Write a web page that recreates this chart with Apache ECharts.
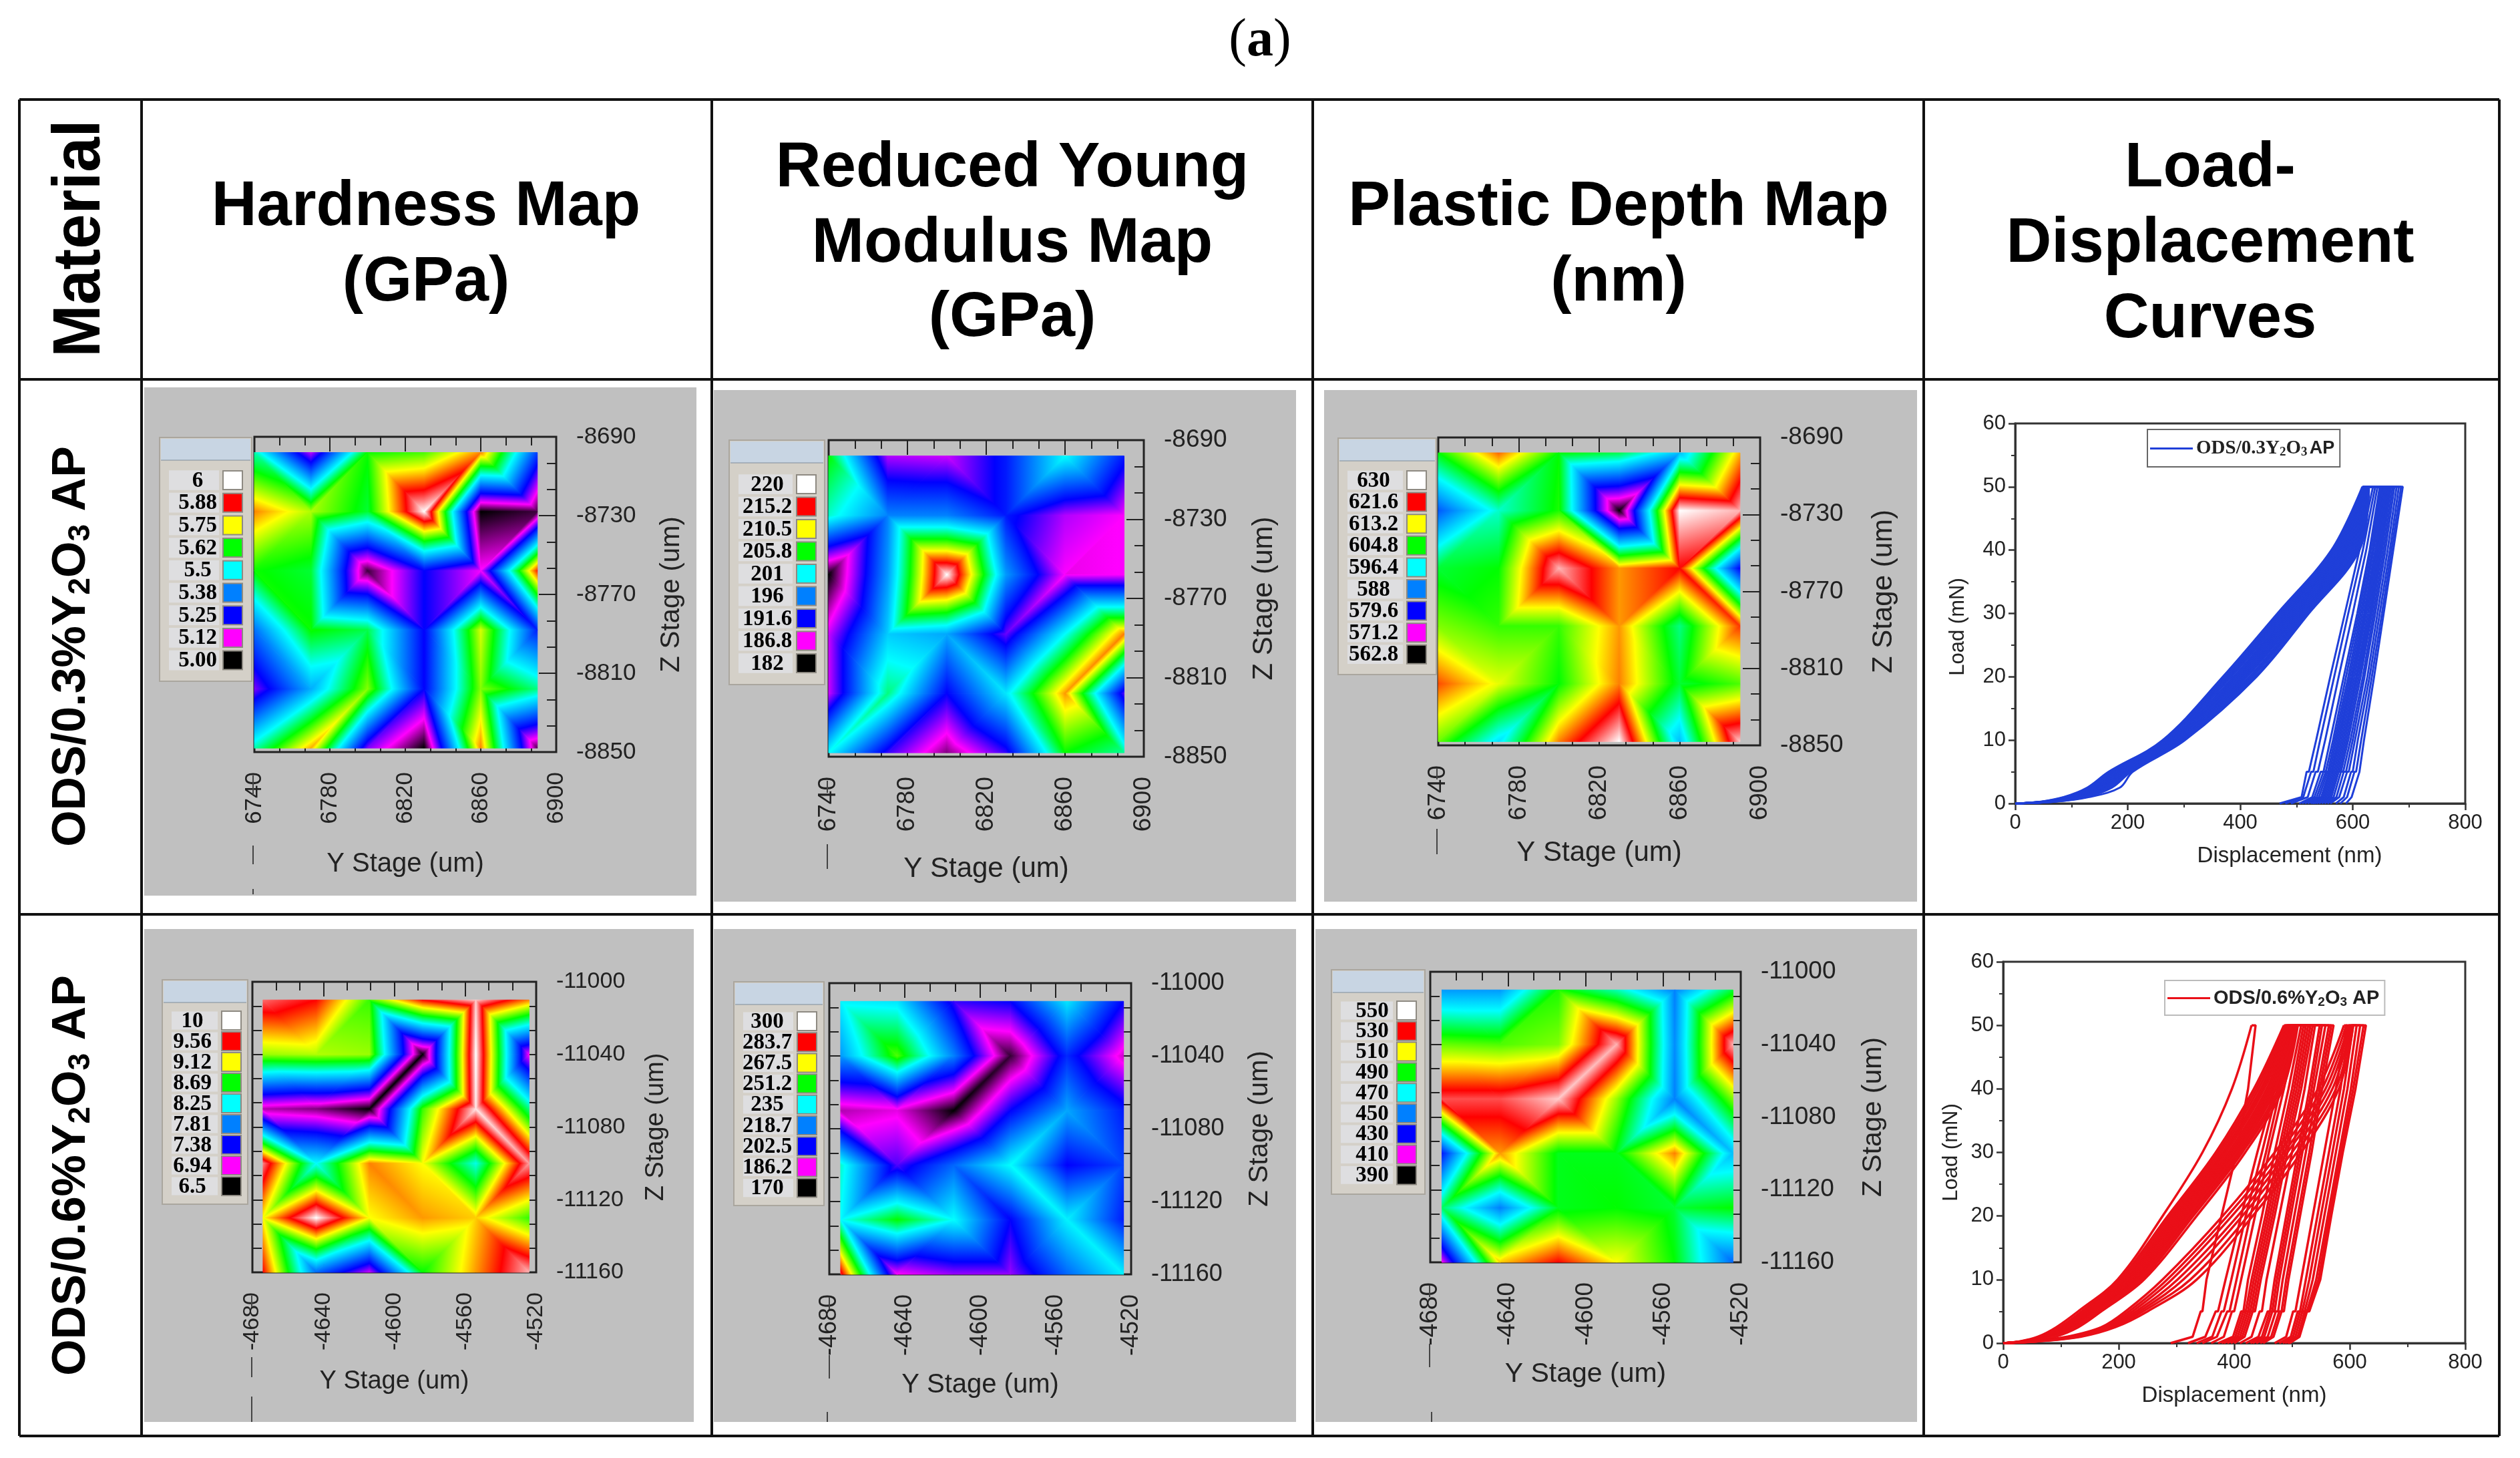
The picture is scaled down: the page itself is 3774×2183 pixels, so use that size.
<!DOCTYPE html>
<html>
<head>
<meta charset="utf-8">
<title>ODS nanoindentation maps</title>
<style>
  html, body { margin: 0; background: #fff; }
  #chart { width: 3774px; height: 2183px; }
</style>
<script src="https://cdn.jsdelivr.net/npm/echarts@6/dist/echarts.min.js"></script>
</head>
<body>
<div id="chart"></div>
<script>
// tick labels of the maps
const yStageTop = [6740, 6780, 6820, 6860, 6900];
const zStageTop = [-8850, -8810, -8770, -8730, -8690];
const yStageBottom = [-4680, -4640, -4600, -4560, -4520];
const zStageBottom = [-11160, -11120, -11080, -11040, -11000];

// indent positions (rows of the value tables run from the top of the map down)
const yNodesTop = [6740, 6770, 6800, 6830, 6860, 6890];
const zNodesTop = [-8698, -8728, -8758, -8788, -8818, -8848];
const yNodesBottom = [-4674, -4644, -4614, -4584, -4554, -4524];
const zNodesBottom = [-11010, -11040, -11070, -11100, -11130, -11160];

// which way each grid cell was split: d = top-left to bottom-right, u = bottom-left to top-right
const splitsTop = ['dudud', 'udddu', 'dudud', 'duddu', 'uuudd'];
const splitsModulusTop = ['dudud', 'ududu', 'dudud', 'duddu', 'uuudd'];
const splitsBottom = ['dudud', 'duudu', 'dudud', 'udddu', 'dudud'];

// legends, high to low
const hardnessLevelsTop = ['6', '5.88', '5.75', '5.62', '5.5', '5.38', '5.25', '5.12', '5.00'];
const modulusLevelsTop = ['220', '215.2', '210.5', '205.8', '201', '196', '191.6', '186.8', '182'];
const depthLevelsTop = ['630', '621.6', '613.2', '604.8', '596.4', '588', '579.6', '571.2', '562.8'];
const hardnessLevelsBottom = ['10', '9.56', '9.12', '8.69', '8.25', '7.81', '7.38', '6.94', '6.5'];
const modulusLevelsBottom = ['300', '283.7', '267.5', '251.2', '235', '218.7', '202.5', '186.2', '170'];
const depthLevelsBottom = ['550', '530', '510', '490', '470', '450', '430', '410', '390'];
const levelColors = ['#ffffff', '#ff0000', '#ffff00', '#00ff00', '#00ffff', '#0080ff', '#0000ff', '#ff00ff', '#000000'];

// map values
const hardnessTop = [
  [5.54, 5.16, 5.63, 5.66, 5.81, 5.31],
  [5.81, 5.71, 5.60, 6.00, 5.00, 5.03],
  [5.63, 5.60, 5.03, 5.25, 5.13, 5.86],
  [5.36, 5.63, 5.59, 5.25, 5.73, 5.28],
  [5.19, 5.42, 5.69, 5.25, 5.69, 5.56],
  [5.54, 5.79, 5.19, 5.00, 5.81, 5.04],
];
const modulusTop = [
  [205.8, 188.2, 187.7, 192.4, 201.0, 192.4],
  [202.0, 196.3, 196.3, 192.4, 188.2, 186.8],
  [182.0, 197.2, 220.0, 197.2, 186.8, 186.8],
  [187.7, 199.1, 197.7, 189.6, 201.0, 212.9],
  [187.7, 203.4, 191.5, 200.1, 212.4, 190.1],
  [201.0, 190.6, 184.4, 190.6, 205.8, 202.9],
];
const depthTop = [
  [604.8, 618.2, 604.8, 602.3, 592.2, 615.7],
  [585.5, 598.1, 605.6, 562.8, 630.0, 627.5],
  [603.1, 604.8, 627.5, 616.6, 621.6, 579.6],
  [609.0, 606.5, 606.5, 616.6, 600.6, 619.9],
  [619.1, 612.4, 604.8, 617.4, 603.1, 607.3],
  [608.2, 594.7, 617.4, 630.0, 592.2, 628.3],
];
const hardnessBottom = [
  [9.74, 9.56, 8.78, 9.56, 9.91, 9.34],
  [8.95, 8.99, 8.95, 6.50, 10.0, 6.94],
  [6.81, 6.72, 6.50, 8.78, 9.96, 8.47],
  [9.78, 8.25, 9.34, 9.12, 8.29, 9.83],
  [9.12, 10.0, 9.12, 9.30, 9.21, 8.78],
  [9.56, 7.73, 7.03, 8.69, 9.30, 9.87],
];
const modulusBottom = [
  [233.4, 231.8, 199.3, 202.5, 231.8, 202.5],
  [222.0, 256.1, 218.8, 173.3, 207.4, 183.0],
  [181.4, 184.6, 170.0, 202.5, 223.6, 205.8],
  [238.3, 197.6, 215.5, 235.0, 202.5, 210.6],
  [235.0, 251.3, 235.0, 202.5, 233.4, 205.8],
  [287.0, 186.3, 192.8, 192.8, 215.5, 233.4],
];
const depthBottom = [
  [454, 454, 492, 476, 450, 486],
  [498, 496, 500, 544, 452, 544],
  [536, 536, 546, 502, 450, 500],
  [434, 518, 488, 488, 520, 460],
  [482, 450, 488, 490, 486, 490],
  [410, 514, 530, 510, 490, 446],
];

// load levels the displacements below were read at
const loadsUp = [0, 0.3, 1, 2.5, 5, 10, 20, 30, 40, 50];
const loadsDown = [50, 40, 30, 20, 10, 5, 5, 1, 0];

const blueLoading = [
  [0, 46, 86, 128, 166, 262, 369, 466, 562, 617],
  [0, 48, 88, 132, 168, 264, 372, 469, 565, 618],
  [0, 50, 92, 136, 171, 266, 375, 472, 567, 618],
  [0, 50, 94, 138, 173, 268, 378, 475, 570, 619],
  [0, 52, 96, 140, 175, 270, 381, 478, 572, 619],
  [0, 54, 98, 142, 177, 272, 384, 481, 575, 620],
  [0, 54, 100, 144, 179, 275, 388, 484, 578, 621],
  [0, 56, 100, 146, 181, 277, 391, 487, 580, 621],
  [0, 56, 102, 148, 184, 279, 394, 489, 583, 622],
  [0, 58, 104, 150, 186, 281, 397, 492, 585, 622],
  [0, 58, 106, 152, 188, 283, 400, 495, 588, 623],
  [0, 60, 108, 154, 190, 285, 403, 498, 590, 624],
  [0, 60, 110, 156, 192, 287, 406, 501, 593, 624],
  [0, 62, 112, 158, 195, 289, 409, 504, 596, 625],
  [0, 64, 114, 160, 197, 292, 412, 507, 598, 626],
  [0, 64, 116, 162, 199, 294, 416, 510, 601, 626],
  [0, 66, 118, 164, 201, 296, 419, 513, 604, 627],
  [0, 68, 122, 168, 204, 298, 422, 516, 606, 628],
  [0, 70, 126, 172, 206, 300, 426, 519, 609, 628],
  [0, 72, 130, 186, 209, 302, 429, 522, 612, 629],
];
const blueUnloading = [
  [636, 612, 586, 560, 535, 522, 518, 509, 470],
  [640, 618, 592, 567, 542, 530, 526, 512, 480],
  [644, 624, 600, 575, 551, 538, 534, 520, 490],
  [648, 630, 608, 584, 560, 548, 543, 528, 505],
  [650, 632, 611, 588, 565, 552, 548, 532, 510],
  [652, 635, 614, 592, 568, 556, 552, 536, 515],
  [654, 637, 617, 595, 571, 559, 555, 540, 520],
  [656, 640, 620, 598, 574, 562, 558, 544, 525],
  [658, 642, 622, 600, 577, 564, 560, 547, 528],
  [660, 644, 624, 603, 580, 567, 563, 550, 530],
  [662, 646, 627, 606, 583, 570, 566, 553, 533],
  [664, 648, 630, 608, 586, 573, 569, 556, 536],
  [666, 650, 632, 611, 589, 576, 572, 559, 540],
  [668, 652, 634, 614, 592, 579, 575, 562, 545],
  [671, 655, 637, 618, 596, 583, 579, 566, 550],
  [674, 658, 640, 621, 600, 588, 584, 571, 555],
  [678, 662, 644, 626, 604, 593, 590, 576, 560],
  [682, 666, 648, 630, 609, 600, 597, 584, 570],
  [686, 669, 652, 634, 615, 606, 603, 590, 578],
  [689, 672, 655, 638, 620, 612, 610, 598, 588],
];
const redLoading = [
  [0, 30, 60, 92, 130, 198, 276, 345, 396, 430],
  [0, 32, 64, 98, 136, 202, 285, 368, 434, 486],
  [0, 34, 66, 100, 140, 206, 289, 372, 438, 488],
  [0, 34, 68, 104, 142, 210, 293, 376, 442, 490],
  [0, 36, 70, 106, 146, 214, 297, 380, 446, 492],
  [0, 36, 72, 108, 148, 216, 300, 383, 449, 494],
  [0, 38, 74, 110, 150, 219, 303, 386, 452, 496],
  [0, 38, 76, 112, 152, 222, 306, 390, 456, 498],
  [0, 40, 78, 114, 154, 225, 309, 393, 459, 500],
  [0, 40, 80, 116, 156, 228, 312, 396, 462, 500],
  [0, 42, 80, 118, 158, 230, 315, 399, 465, 502],
  [0, 42, 82, 120, 160, 232, 318, 402, 468, 504],
  [0, 44, 84, 122, 162, 235, 321, 406, 472, 504],
  [0, 46, 86, 124, 164, 238, 325, 410, 476, 506],
  [0, 48, 88, 126, 166, 240, 329, 414, 480, 508],
  [0, 50, 90, 130, 170, 244, 335, 419, 484, 510],
  [0, 44, 86, 122, 160, 234, 320, 404, 470, 506],
  [0, 46, 88, 126, 164, 238, 326, 412, 478, 508],
  [0, 50, 110, 170, 212, 276, 380, 470, 545, 590],
  [0, 52, 114, 174, 218, 284, 388, 478, 552, 594],
  [0, 54, 118, 178, 224, 292, 396, 486, 558, 598],
  [0, 56, 122, 182, 230, 302, 406, 492, 564, 600],
  [0, 58, 126, 186, 236, 312, 414, 500, 570, 602],
  [0, 60, 130, 190, 242, 324, 424, 508, 576, 604],
  [0, 62, 134, 194, 250, 335, 432, 516, 581, 606],
];
const redUnloading = [
  [437, 424, 404, 378, 352, 345, 342, 328, 290],
  [495, 470, 440, 412, 385, 372, 368, 350, 320],
  [500, 475, 448, 420, 395, 382, 378, 362, 335],
  [505, 480, 455, 428, 404, 392, 388, 370, 345],
  [510, 486, 460, 436, 412, 400, 396, 382, 360],
  [516, 494, 470, 448, 424, 416, 412, 398, 372],
  [520, 500, 476, 454, 430, 420, 416, 402, 378],
  [524, 504, 480, 458, 434, 424, 420, 406, 382],
  [528, 508, 484, 462, 438, 428, 424, 410, 388],
  [532, 512, 488, 466, 442, 432, 428, 414, 394],
  [536, 516, 492, 470, 446, 436, 432, 418, 400],
  [540, 522, 500, 478, 456, 448, 444, 430, 410],
  [548, 530, 510, 490, 470, 462, 458, 442, 420],
  [552, 534, 514, 494, 474, 466, 462, 448, 428],
  [558, 538, 518, 498, 478, 470, 466, 452, 432],
  [564, 544, 524, 504, 484, 476, 472, 458, 438],
  [568, 548, 530, 510, 490, 482, 478, 464, 445],
  [572, 552, 534, 514, 494, 486, 482, 468, 450],
  [595, 576, 556, 536, 516, 506, 502, 490, 470],
  [600, 584, 564, 544, 524, 514, 510, 498, 478],
  [606, 590, 570, 550, 530, 518, 514, 502, 484],
  [612, 596, 576, 556, 536, 522, 518, 506, 488],
  [618, 602, 582, 562, 542, 526, 522, 510, 492],
  [624, 606, 585, 565, 546, 528, 524, 512, 494],
  [628, 610, 588, 568, 549, 530, 526, 513, 496],
];

const blueName = 'ODS/0.3Y2O3 AP';
const redName = 'ODS/0.6%Y2O3 AP';

// where each map panel sits on the page
const panels = [
  {
    values: hardnessTop, levels: hardnessLevelsTop, yNodes: yNodesTop, zNodes: zNodesTop, splits: splitsTop, yTicks: yStageTop, zTicks: zStageTop,
    gray: [216, 580, 827, 761], frame: [381, 654, 452, 472], win: [239, 655, 138, 365], cellX: 296, swatchX: 334, rowY: 719, rowStep: 33.7,
    tickFont: 35, nameFont: 40, xGap: 148, zGap: 153, stubs: [[379, 1161, 1190], [379, 1266, 1294], [379, 1331, 1339]],
  },
  {
    values: modulusTop, levels: modulusLevelsTop, yNodes: yNodesTop, zNodes: zNodesTop, splits: splitsModulusTop, yTicks: yStageTop, zTicks: zStageTop,
    gray: [1069, 584, 872, 766], frame: [1241, 659, 472, 474], win: [1092, 659, 143, 366], cellX: 1149, swatchX: 1193, rowY: 725, rowStep: 33.5,
    tickFont: 37, nameFont: 42, xGap: 147, zGap: 159, stubs: [[1239, 1169, 1187], [1239, 1264, 1301]],
  },
  {
    values: depthTop, levels: depthLevelsTop, yNodes: yNodesTop, zNodes: zNodesTop, splits: splitsTop, yTicks: yStageTop, zTicks: zStageTop,
    gray: [1983, 584, 888, 766], frame: [2154, 655, 482, 461], win: [2004, 656, 147, 354], cellX: 2057, swatchX: 2107, rowY: 719, rowStep: 32.6,
    tickFont: 37, nameFont: 42, xGap: 140, zGap: 164, stubs: [[2152, 1150, 1167], [2152, 1241, 1279]],
  },
  {
    values: hardnessBottom, levels: hardnessLevelsBottom, yNodes: yNodesBottom, zNodes: zNodesBottom, splits: splitsBottom, yTicks: yStageBottom, zTicks: zStageBottom,
    gray: [216, 1391, 823, 738], frame: [378, 1470, 425, 435], win: [243, 1467, 128, 336], cellX: 288, swatchX: 332, rowY: 1528, rowStep: 31,
    tickFont: 34, nameFont: 38, xGap: 145, zGap: 161, stubs: [[377, 1940, 1957], [377, 2032, 2062], [377, 2091, 2129]],
  },
  {
    values: modulusBottom, levels: modulusLevelsBottom, yNodes: yNodesBottom, zNodes: zNodesBottom, splits: splitsBottom, yTicks: yStageBottom, zTicks: zStageBottom,
    gray: [1069, 1391, 872, 738], frame: [1242, 1472, 452, 436], win: [1099, 1470, 135, 335], cellX: 1149, swatchX: 1194, rowY: 1529, rowStep: 31.2,
    tickFont: 36, nameFont: 40, xGap: 146, zGap: 173, stubs: [[1242, 1942, 1960], [1242, 2029, 2064], [1239, 2114, 2129]],
  },
  {
    values: depthBottom, levels: depthLevelsBottom, yNodes: yNodesBottom, zNodes: zNodesBottom, splits: splitsBottom, yTicks: yStageBottom, zTicks: zStageBottom,
    gray: [1970, 1391, 901, 738], frame: [2142, 1455, 465, 435], win: [1994, 1452, 140, 336], cellX: 2055, swatchX: 2092, rowY: 1513, rowStep: 30.8,
    tickFont: 37, nameFont: 41, xGap: 147, zGap: 178, stubs: [[2141, 1925, 1942], [2141, 2012, 2047], [2144, 2114, 2129]],
  },
];

const SANS = '"Liberation Sans", Arial, sans-serif';
const SERIF = '"Liberation Serif", "Times New Roman", serif';
const INK = '#222';

// the colour scale is piecewise linear, and so is the surface on each triangle,
// which makes one linear gradient exact for one triangle
const rampStops = levelColors.slice().reverse().map((color, i) => ({ offset: i / 8, color }));

function triangleFill(pts, lv) {
  const dx1 = pts[1][0] - pts[0][0];
  const dy1 = pts[1][1] - pts[0][1];
  const dx2 = pts[2][0] - pts[0][0];
  const dy2 = pts[2][1] - pts[0][1];
  const dt1 = lv[1] - lv[0];
  const dt2 = lv[2] - lv[0];
  const det = dx1 * dy2 - dx2 * dy1;
  let gx = (dt1 * dy2 - dt2 * dy1) / det;
  const gy = (dx1 * dt2 - dx2 * dt1) / det;
  if (gx * gx + gy * gy < 1e-8) gx = 1e-3;
  const g2 = gx * gx + gy * gy;
  const at = (level) => [
    pts[0][0] + gx * (level - lv[0]) / g2,
    pts[0][1] + gy * (level - lv[0]) / g2,
  ];
  const a = at(0);
  const b = at(8);
  return new echarts.graphic.LinearGradient(a[0], a[1], b[0], b[1], rampStops, true);
}

function buildTriangles(panel) {
  const { values, yNodes, zNodes, splits } = panel;
  const node = (r, c) => [yNodes[c], zNodes[r], values[r][c]];
  const out = [];
  splits.forEach((row, r) => {
    [...row].forEach((kind, c) => {
      const tl = node(r, c);
      const tr = node(r, c + 1);
      const bl = node(r + 1, c);
      const br = node(r + 1, c + 1);
      if (kind === 'd') {
        out.push([...tl, ...tr, ...br], [...tl, ...bl, ...br]);
      } else {
        out.push([...tl, ...tr, ...bl], [...tr, ...bl, ...br]);
      }
    });
  });
  return out;
}

function mapSeries(panel, index) {
  const top = parseFloat(panel.levels[0]);
  const bottom = parseFloat(panel.levels[8]);
  return {
    type: 'custom',
    coordinateSystem: 'cartesian2d',
    xAxisIndex: index * 4,
    yAxisIndex: index * 4,
    silent: true,
    animation: false,
    z: 3,
    encode: { x: [0, 3, 6], y: [1, 4, 7] },
    data: buildTriangles(panel),
    renderItem: (params, api) => {
      const pts = [0, 3, 6].map((k) => api.coord([api.value(k), api.value(k + 1)]));
      const lv = [2, 5, 8].map((k) => (api.value(k) - bottom) / (top - bottom) * 8);
      const fill = triangleFill(pts, lv);
      return {
        type: 'polygon',
        shape: { points: pts },
        style: { fill, stroke: fill, lineWidth: 1 },
      };
    },
  };
}

// each major step of the map axes has three short intervals
function minorTicks(ticks) {
  const out = [];
  ticks.slice(1).forEach((t, i) => {
    const step = (t - ticks[i]) / 3;
    out.push(ticks[i] + step, ticks[i] + 2 * step);
  });
  return out;
}

function mapAxis(kind, position, ticks, tickLength, gridIndex, withLabels, panel) {
  const axis = {
    type: 'value',
    gridIndex,
    position,
    min: ticks[0],
    max: ticks[ticks.length - 1],
    splitLine: { show: false },
    axisLine: { show: false, onZero: false },
    axisTick: { show: true, inside: true, length: tickLength, customValues: ticks, lineStyle: { color: INK, width: 2 } },
    axisLabel: { show: false },
  };
  if (withLabels) {
    axis.axisLabel = {
      show: true,
      customValues: ticks,
      formatter: (v) => String(v),
      color: INK,
      fontFamily: SANS,
      fontSize: panel.tickFont,
      margin: 30,
      rotate: kind === 'x' ? 90 : 0,
      hideOverlap: false,
    };
    axis.name = kind === 'x' ? 'Y Stage (um)' : 'Z Stage (um)';
    axis.nameLocation = 'middle';
    axis.nameGap = kind === 'x' ? panel.xGap : panel.zGap;
    axis.nameRotate = kind === 'x' ? 0 : 90;
    axis.nameMoveOverlap = false;
    axis.nameTextStyle = { color: INK, fontFamily: SANS, fontSize: panel.nameFont };
  }
  return axis;
}

const grids = [];
const xAxes = [];
const yAxes = [];
const series = [];

panels.forEach((panel, i) => {
  const [left, top, width, height] = panel.frame;
  grids.push({ left, top, width, height, show: true, borderColor: INK, borderWidth: 3, backgroundColor: 'transparent' });
  const yMinor = minorTicks(panel.yTicks);
  const zMinor = minorTicks(panel.zTicks);
  xAxes.push(
    mapAxis('x', 'bottom', panel.yTicks, 22, i, true, panel),
    mapAxis('x', 'top', panel.yTicks, 22, i, false, panel),
    mapAxis('x', 'bottom', [panel.yTicks[0], ...yMinor, panel.yTicks[4]], 13, i, false, panel),
    mapAxis('x', 'top', [panel.yTicks[0], ...yMinor, panel.yTicks[4]], 13, i, false, panel),
  );
  yAxes.push(
    mapAxis('y', 'right', panel.zTicks, 26, i, true, panel),
    mapAxis('y', 'left', panel.zTicks, 26, i, false, panel),
    mapAxis('y', 'right', [panel.zTicks[0], ...zMinor, panel.zTicks[4]], 14, i, false, panel),
    mapAxis('y', 'left', [panel.zTicks[0], ...zMinor, panel.zTicks[4]], 14, i, false, panel),
  );
  series.push(mapSeries(panel, i));
});

function loadGrid(frame, dispShift, loadShift, nameGapX, nameGapY) {
  const gridIndex = grids.length;
  grids.push({ left: frame[0], top: frame[1], width: frame[2], height: frame[3], show: true, borderColor: '#333', borderWidth: 3, backgroundColor: '#fff' });
  const common = {
    type: 'value',
    gridIndex,
    nameLocation: 'middle',
    nameMoveOverlap: false,
    splitLine: { show: false },
    axisLine: { show: true, onZero: false, lineStyle: { color: '#333', width: 3 } },
    axisTick: { show: true, length: 10, lineStyle: { color: '#333', width: 2.5 } },
    minorTick: { show: true, splitNumber: 2, length: 6, lineStyle: { color: '#333', width: 2 } },
    axisLabel: { color: INK, fontFamily: SANS, fontSize: 31, margin: 14, formatter: (v) => String(v) },
  };
  xAxes.push({
    ...common,
    position: 'bottom',
    min: 0,
    max: 800,
    interval: 200,
    name: 'Displacement (nm)',
    nameGap: nameGapX,
    nameTextStyle: { color: INK, fontFamily: SANS, fontSize: 33, padding: dispShift },
  });
  yAxes.push({
    ...common,
    position: 'left',
    min: 0,
    max: 60,
    interval: 10,
    name: 'Load (mN)',
    nameGap: nameGapY,
    nameRotate: 90,
    nameTextStyle: { color: INK, fontFamily: SANS, fontSize: 31, padding: loadShift },
  });
  return gridIndex;
}

function curveSeries(name, color, width, loading, unloading) {
  const common = {
    type: 'line',
    name,
    xAxisIndex: xAxes.length - 1,
    yAxisIndex: yAxes.length - 1,
    showSymbol: false,
    silent: true,
    animation: false,
    z: 3,
    color,
    lineStyle: { width },
  };
  const out = [];
  loading.forEach((up, i) => {
    // the loading branch is curved; hold and unloading keep their corners
    out.push(
      { ...common, smooth: 0.35, data: up.map((d, k) => [d, loadsUp[k]]) },
      { ...common, data: [[up[up.length - 1], loadsUp[loadsUp.length - 1]], ...unloading[i].map((d, k) => [d, loadsDown[k]])] },
    );
  });
  return out;
}

loadGrid([3018, 634, 674, 569], [0, 0, 0, 148], [0, 40, 0, 0], 62, 70);
series.push(...curveSeries(blueName, '#1f3fd9', 3, blueLoading, blueUnloading));
loadGrid([3000, 1440, 692, 571], 0, 0, 62, 62);
series.push(...curveSeries(redName, '#ea0f18', 3.5, redLoading, redUnloading));

const legendBase = {
  orient: 'horizontal',
  icon: 'rect',
  itemWidth: 64,
  itemHeight: 3,
  itemGap: 0,
  borderWidth: 2,
  backgroundColor: '#fff',
  selectedMode: false,
  z: 10,
};
const legends = [
  {
    ...legendBase,
    data: [blueName],
    left: 3216,
    top: 643,
    padding: [14, 8, 12, 4],
    borderColor: '#666',
    formatter: () => '{t|ODS/0.3Y}{s|2}{t|O}{s|3} {a|AP}',
    textStyle: {
      rich: {
        t: { fontFamily: SERIF, fontWeight: 'bold', fontSize: 29, color: INK },
        s: { fontFamily: SERIF, fontWeight: 'bold', fontSize: 19, color: INK, padding: [12, 0, 0, 0] },
        a: { fontFamily: SANS, fontWeight: 'bold', fontSize: 27, color: INK },
      },
    },
  },
  {
    ...legendBase,
    data: [redName],
    left: 3242,
    top: 1468,
    padding: [12, 8, 10, 4],
    borderColor: '#bbb',
    formatter: () => '{a|ODS/0.6%Y}{s|2}{a|O}{s|3}{a| AP}',
    textStyle: {
      rich: {
        a: { fontFamily: SANS, fontWeight: 'bold', fontSize: 29, color: INK },
        s: { fontFamily: SANS, fontWeight: 'bold', fontSize: 19, color: INK, padding: [12, 0, 0, 0] },
      },
    },
  },
];

function line(x1, y1, x2, y2, width, color, z) {
  return { type: 'line', z, shape: { x1, y1, x2, y2 }, style: { stroke: color, lineWidth: width } };
}

function label(text, x, y, fontSize, z, rotation, extra) {
  return {
    type: 'text',
    x,
    y,
    z,
    rotation: rotation || 0,
    style: {
      text,
      fontFamily: SANS,
      fontWeight: 'bold',
      fontSize,
      fill: '#000',
      align: 'center',
      verticalAlign: 'middle',
      ...extra,
    },
  };
}

const tableX = [29, 212, 1066, 1966, 2881, 3743];
const tableY = [149, 568, 1369, 2150];

const graphicElements = [];

panels.forEach((panel) => {
  const [gx, gy, gw, gh] = panel.gray;
  graphicElements.push({ type: 'rect', z: -5, shape: { x: gx, y: gy, width: gw, height: gh }, style: { fill: '#c0c0c0' } });
  panel.stubs.forEach((s) => graphicElements.push(line(s[0], s[1], s[0], s[2], 2, '#444', 20)));

  const [wx, wy, ww, wh] = panel.win;
  graphicElements.push(
    { type: 'rect', z: 20, shape: { x: wx, y: wy, width: ww, height: wh }, style: { fill: '#d4d0c8', stroke: '#aaa69e', lineWidth: 2 } },
    { type: 'rect', z: 21, shape: { x: wx + 2, y: wy + 2, width: ww - 4, height: 32 }, style: { fill: '#c8d5e3' } },
    line(wx + 2, wy + 34, wx + ww - 2, wy + 34, 1, '#7f8c99', 22),
  );
  panel.levels.forEach((text, i) => {
    const y = panel.rowY + i * panel.rowStep;
    graphicElements.push(
      { type: 'rect', z: 21, shape: { x: wx + 14, y: y - panel.rowStep / 2 + 2, width: panel.swatchX - wx - 20, height: panel.rowStep - 4 }, style: { fill: '#dedee0' } },
      { type: 'rect', z: 21, shape: { x: panel.swatchX, y: y - 14, width: 29, height: 28 }, style: { fill: levelColors[i], stroke: '#8e8a82', lineWidth: 2 } },
      label(text, panel.cellX, y + 1, 33, 22, 0, { fontFamily: SERIF }),
    );
  });
});

tableX.forEach((x) => graphicElements.push(line(x, tableY[0], x, tableY[3], 4, '#111', 5)));
tableY.forEach((y) => graphicElements.push(line(tableX[0], y, tableX[5], y, 4, '#111', 5)));

graphicElements.push(
  label('{p|(}{a|a}{p|)}', 1887, 62, 80, 30, 0, {
    rich: {
      p: { fontFamily: SERIF, fontSize: 80, fill: '#000' },
      a: { fontFamily: SERIF, fontWeight: 'bold', fontSize: 80, fill: '#000' },
    },
  }),
  { ...label('Material', 121, 357, 100, 30, Math.PI / 2), scaleX: 0.94 },
  label('Hardness Map', 638, 311, 94, 30),
  label('(GPa)', 638, 424, 94, 30),
  label('Reduced Young', 1516, 253, 94, 30),
  label('Modulus Map', 1516, 366, 94, 30),
  label('(GPa)', 1516, 477, 94, 30),
  label('Plastic Depth Map', 2424, 311, 94, 30),
  label('(nm)', 2424, 424, 94, 30),
  label('Load-', 3310, 253, 94, 30),
  label('Displacement', 3310, 366, 94, 30),
  label('Curves', 3310, 479, 94, 30),
);

const rowLabelRich = {
  b: { fontFamily: SANS, fontWeight: 'bold', fontSize: 70, fill: '#000' },
  s: { fontFamily: SANS, fontWeight: 'bold', fontSize: 46, fill: '#000', padding: [26, 0, 0, 0] },
};
graphicElements.push(
  label('{b|ODS/0.3%Y}{s|2}{b|O}{s|3}{b| AP}', 108, 968, 70, 30, Math.PI / 2, { rich: rowLabelRich }),
  label('{b|ODS/0.6%Y}{s|2}{b|O}{s|3}{b| AP}', 108, 1760, 70, 30, Math.PI / 2, { rich: rowLabelRich }),
);

const chart = echarts.init(document.getElementById('chart'), null, { renderer: 'canvas' });
chart.setOption({
  animation: false,
  backgroundColor: '#fff',
  grid: grids,
  xAxis: xAxes,
  yAxis: yAxes,
  legend: legends,
  series,
  graphic: { elements: graphicElements },
});
</script>
</body>
</html>
